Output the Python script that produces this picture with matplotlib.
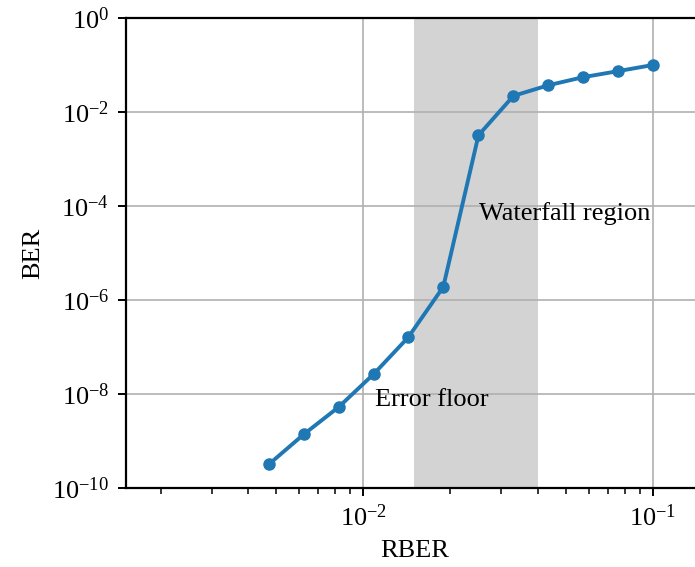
import matplotlib
matplotlib.use("Agg")
import matplotlib.pyplot as plt

plt.rcParams['font.family'] = ['Liberation Serif', 'DejaVu Serif']
plt.rcParams['mathtext.fontset'] = 'stix'
plt.rcParams['font.size'] = 19

# measured decoder curve
rber = [0.00473, 0.00625, 0.00824, 0.0109, 0.0143, 0.0189,
        0.0250, 0.0330, 0.0435, 0.0574, 0.0758, 0.100]
ber = [3.2e-10, 1.4e-9, 5.3e-9, 2.7e-8, 1.6e-7, 1.9e-6,
       3.2e-3, 2.2e-2, 3.7e-2, 5.5e-2, 7.4e-2, 1.0e-1]

waterfall = (0.015, 0.04)
xticks = [1e-2, 1e-1]
yticks = [1e-10, 1e-8, 1e-6, 1e-4, 1e-2, 1]

fig = plt.figure(figsize=(6.95, 5.67), dpi=100)
ax = fig.add_axes([0.1813, 0.1393, 0.8317, 0.829])

ax.axvspan(waterfall[0], waterfall[1], color='lightgray', zorder=0, lw=0)
ax.grid(True, which='major', color='#b0b0b0', linewidth=1.2, zorder=1)
ax.plot(rber, ber, '-o', color='#1f77b4', lw=2.8, ms=8, zorder=3)

ax.set_xscale('log')
ax.set_yscale('log')
ax.set_xticks(xticks)
ax.set_yticks(yticks)
ax.minorticks_off()
ax.set_xticks([k * 1e-3 for k in range(2, 10)] + [k * 1e-2 for k in range(2, 10)], minor=True)
ax.set_xlim(1.52e-3, 0.15)
ax.set_ylim(1e-10, 1)
ax.set_axisbelow(True)

ax.text(0.0251, 7e-5, 'Waterfall region', va='center', ha='left')
ax.text(0.0110, 7.4e-9, 'Error floor', va='center', ha='left')

ax.set_xlabel('RBER', labelpad=6)
ax.set_ylabel('BER', labelpad=6)
ax.tick_params(direction='out', width=1.4, length=6, pad=6)
ax.tick_params(which='minor', width=1.1, length=4)
for s in ax.spines.values():
    s.set_linewidth(1.6)

fig.savefig('out.png', dpi=100)
